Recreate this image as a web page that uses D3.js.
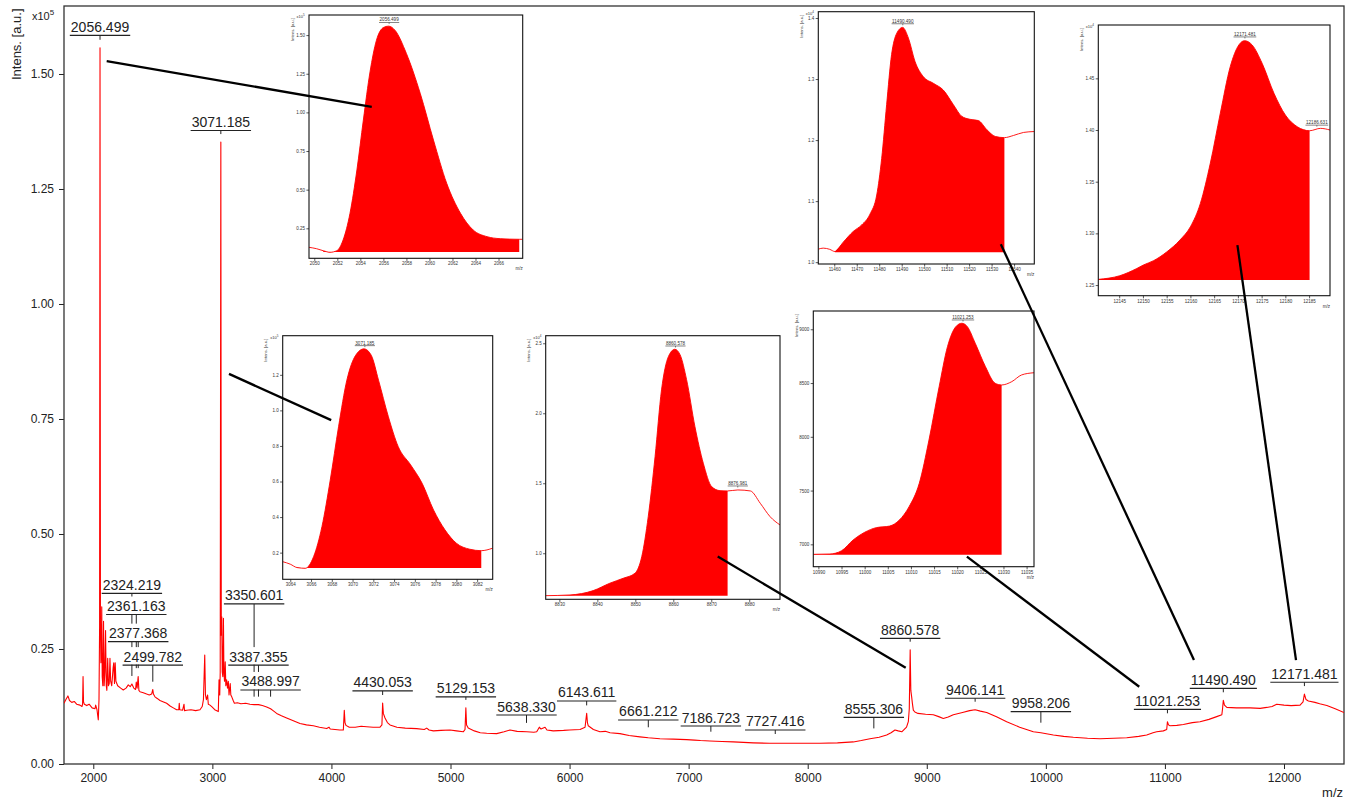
<!DOCTYPE html>
<html>
<head>
<meta charset="utf-8">
<title>MALDI-TOF spectrum</title>
<script src="https://cdn.jsdelivr.net/npm/d3@7"></script>
<style>
  body { margin: 0; background: #fff; }
  svg { display: block; }
  text { font-family: "Liberation Sans", Arial, Helvetica, sans-serif; }
</style>
</head>
<body>
<svg id="chart" width="1352" height="800"></svg>
<script>
// ---------------------------------------------------------------
// Spectrum: [m/z, intensity x10^5 a.u.]
// ---------------------------------------------------------------
const spectrum = [
  [1754,0.132],[1770,0.140],[1787,0.148],[1800,0.138],[1819,0.134],[1840,0.136],[1860,0.130],
  [1888,0.128],[1905,0.125],[1910,0.130],[1914,0.190],[1918,0.135],[1925,0.130],[1945,0.127],
  [1965,0.130],[1990,0.122],[2014,0.120],[2020,0.128],[2031,0.118],[2042,0.096],[2048,0.140],
  [2053,0.300],[2056.5,1.557],[2060,0.300],[2064,0.220],[2068,0.260],[2071,0.342],[2075,0.190],
  [2080,0.170],[2086,0.310],[2091,0.170],[2097,0.200],[2103,0.290],[2109,0.170],[2114,0.160],
  [2121,0.230],[2127,0.170],[2134,0.175],[2140,0.230],[2146,0.180],[2155,0.170],[2167,0.210],
  [2172,0.220],[2178,0.175],[2184,0.220],[2190,0.180],[2205,0.170],[2230,0.165],[2252,0.161],
  [2275,0.165],[2294,0.172],[2310,0.168],[2324,0.174],[2340,0.165],[2355,0.162],[2361,0.178],
  [2368,0.165],[2377,0.190],[2383,0.160],[2392,0.157],[2420,0.155],[2448,0.152],[2470,0.150],
  [2490,0.152],[2499.8,0.162],[2505,0.152],[2518,0.146],[2540,0.142],[2560,0.138],[2590,0.135],
  [2616,0.132],[2645,0.126],[2672,0.122],[2700,0.118],[2718,0.118],[2722,0.132],[2726,0.118],
  [2750,0.117],[2762,0.130],[2766,0.116],[2784,0.117],[2820,0.118],[2860,0.116],[2896,0.118],
  [2915,0.125],[2925,0.140],[2936,0.237],[2942,0.150],[2950,0.140],[2960,0.150],[2966,0.130],
  [2980,0.128],[2997,0.124],[3020,0.118],[3050,0.114],[3056,0.183],[3062,0.150],[3066,0.200],
  [3071.2,1.352],[3075,0.280],[3079,0.320],[3083,0.200],[3088,0.190],[3093,0.317],[3097,0.200],
  [3102,0.180],[3108,0.222],[3113,0.170],[3120,0.183],[3127,0.165],[3134,0.180],[3140,0.150],
  [3150,0.175],[3155,0.150],[3163,0.146],[3175,0.138],[3185,0.132],[3210,0.133],[3240,0.131],
  [3280,0.132],[3316,0.130],[3350.6,0.129],[3387,0.129],[3420,0.127],[3456,0.124],[3489,0.120],
  [3510,0.116],[3540,0.110],[3580,0.105],[3624,0.100],[3680,0.094],[3736,0.088],[3790,0.085],
  [3848,0.083],[3900,0.080],[3960,0.077],[3980,0.080],[3990,0.076],[4030,0.075],[4070,0.074],
  [4100,0.074],[4108,0.117],[4114,0.090],[4122,0.084],[4150,0.080],[4200,0.080],[4250,0.082],
  [4296,0.081],[4350,0.080],[4408,0.080],[4424,0.085],[4430,0.1326],[4436,0.110],[4450,0.100],
  [4470,0.090],[4492,0.085],[4550,0.080],[4620,0.078],[4716,0.077],[4780,0.075],[4800,0.078],
  [4820,0.074],[4856,0.072],[4920,0.073],[4996,0.074],[5050,0.072],[5107,0.070],[5122,0.075],
  [5129,0.122],[5135,0.085],[5149,0.078],[5200,0.072],[5250,0.068],[5304,0.067],[5388,0.066],
  [5450,0.070],[5500,0.074],[5560,0.071],[5640,0.070],[5700,0.069],[5724,0.070],[5746,0.080],
  [5760,0.076],[5794,0.080],[5810,0.074],[5863,0.072],[5950,0.073],[6000,0.074],[6088,0.075],
  [6130,0.080],[6143.6,0.110],[6150,0.090],[6157,0.083],[6200,0.075],[6255,0.070],[6300,0.071],
  [6340,0.068],[6423,0.066],[6500,0.062],[6591,0.059],[6661,0.057],[6759,0.055],[6870,0.054],
  [6983,0.053],[7050,0.052],[7100,0.051],[7179,0.050],[7280,0.049],[7375,0.048],[7460,0.047],
  [7543,0.046],[7680,0.045],[7823,0.045],[7960,0.045],[8103,0.045],[8250,0.046],[8383,0.048],
  [8450,0.051],[8523,0.055],[8600,0.058],[8663,0.063],[8700,0.068],[8733,0.074],[8760,0.072],
  [8790,0.070],[8830,0.080],[8845,0.092],[8853,0.120],[8860.6,0.2485],[8866,0.160],[8873,0.146],
  [8880,0.130],[8887,0.117],[8900,0.113],[8926,0.110],[8990,0.108],[9055,0.107],[9100,0.103],
  [9139,0.099],[9180,0.102],[9223,0.107],[9300,0.112],[9360,0.116],[9406,0.118],[9450,0.115],
  [9503,0.112],[9590,0.102],[9671,0.092],[9780,0.080],[9895,0.070],[9958,0.068],[10063,0.063],
  [10150,0.060],[10231,0.058],[10350,0.056],[10455,0.055],[10570,0.056],[10679,0.057],[10780,0.060],
  [10847,0.063],[10900,0.068],[10931,0.070],[10987,0.072],[11015,0.075],[11021,0.092],[11030,0.085],
  [11043,0.083],[11100,0.084],[11155,0.086],[11230,0.090],[11295,0.092],[11370,0.097],[11435,0.103],
  [11478,0.107],[11484,0.120],[11490.5,0.1385],[11500,0.128],[11520,0.123],[11600,0.122],[11715,0.122],
  [11800,0.121],[11855,0.123],[11900,0.125],[11939,0.130],[12000,0.128],[12060,0.127],[12135,0.128],
  [12160,0.135],[12171.5,0.152],[12185,0.140],[12205,0.137],[12260,0.134],[12300,0.131],[12360,0.127],
  [12430,0.120],[12504,0.112]
];

// Annotated peaks (m/z), their apex intensity and the level of each label (x10^5 a.u.)
const peakLabels  = [2056.499, 2324.219, 2361.163, 2377.368, 2499.782, 3071.185, 3350.601, 3387.355,
                     3488.997, 4430.053, 5129.153, 5638.330, 6143.611, 6661.212, 7186.723, 7727.416,
                     8555.306, 8860.578, 9406.141, 9958.206, 11021.253, 11490.490, 12171.481];
const peakHeights = [1.557, 0.174, 0.191, 0.191, 0.1615, 1.352, 0.129, 0.129,
                     0.129, 0.1326, 0.122, 0.072, 0.110, 0.0624, 0.0528, 0.0478,
                     0.060, 0.2485, 0.118, 0.0724, 0.0928, 0.1385, 0.152];
const labelLevels = [1.584, 0.371, 0.325, 0.266, 0.215, 1.377, 0.348, 0.215,
                     0.161, 0.159, 0.146, 0.1065, 0.137, 0.0957, 0.0826, 0.074,
                     0.1014, 0.273, 0.1428, 0.1138, 0.1188, 0.1645, 0.1777];

// Axis ticks of the full spectrum
const mzTicks  = [2000, 3000, 4000, 5000, 6000, 7000, 8000, 9000, 10000, 11000, 12000];
const intTicks = [0, 0.25, 0.50, 0.75, 1.00, 1.25, 1.50];

// Zoomed peak profiles: [m/z, intensity in the units of each zoom axis]
const zoom2056 = [ // x10^5
  [2049.54,0.127],[2050.2,0.118],[2050.78,0.105],[2051.37,0.095],[2051.95,0.105],[2052.5,0.174],
  [2053.1,0.347],[2053.7,0.627],[2054.26,0.95],[2054.84,1.262],[2055.4,1.467],[2056.0,1.549],
  [2056.45,1.558],[2057.0,1.532],[2058.0,1.381],[2059.2,1.123],[2060.35,0.821],[2061.5,0.541],
  [2062.7,0.347],[2063.8,0.239],[2065.0,0.196],[2066.15,0.183],[2067.8,0.179],[2068.1,0.179]
];
const zoom3071 = [ // x10^5
  [3063.27,0.149],[3064.0,0.135],[3064.65,0.116],[3065.45,0.112],[3066.25,0.178],[3067.05,0.346],
  [3067.85,0.608],[3068.65,0.908],[3069.45,1.17],[3070.3,1.31],[3071.1,1.346],[3071.8,1.31],
  [3072.5,1.17],[3073.45,0.964],[3074.4,0.796],[3075.6,0.693],[3076.7,0.59],[3077.8,0.44],
  [3078.9,0.328],[3080.0,0.253],[3081.3,0.219],[3082.4,0.211],[3083.5,0.225]
];
const zoom8860 = [ // x10^4
  [8826.4,0.697],[8832.8,0.702],[8838.9,0.733],[8843.3,0.786],[8846.8,0.821],[8849.9,0.857],
  [8851.7,0.976],[8853.4,1.261],[8855.2,1.69],[8856.9,2.167],[8858.7,2.404],[8860.4,2.457],
  [8861.8,2.417],[8863.5,2.24],[8865.7,1.904],[8867.9,1.643],[8870.1,1.476],[8872.3,1.447],
  [8874.3,1.445],[8877.0,1.452],[8880.3,1.445],[8882.9,1.357],[8885.5,1.261],[8888.1,1.202]
];
const zoom11021 = [ // a.u.
  [10988.9,6907],[10992.5,6910],[10995,6940],[10997.5,7040],[11000,7112],[11002.5,7155],
  [11005.4,7170],[11007.5,7226],[11009.6,7350],[11011.8,7567],[11013.9,7970],[11016.1,8466],
  [11017.9,8838],[11019.7,9024],[11021.0,9056],[11022.2,9024],[11023.9,8870],[11026.1,8653],
  [11028.2,8498],[11029.6,8482],[11031.8,8513],[11033.9,8575],[11036.6,8596]
];
const zoom11490 = [ // x10^4
  [11452.9,1.0213],[11455.1,1.023],[11458.0,1.021],[11460.3,1.0174],[11464.0,1.0328],[11468.4,1.0502],
  [11472.2,1.061],[11475.9,1.0787],[11478.9,1.110],[11481.1,1.170],[11483.3,1.258],[11485.5,1.34],
  [11487.8,1.375],[11490.4,1.3846],[11493.0,1.367],[11495.9,1.329],[11499.6,1.304],[11504.1,1.293],
  [11508.5,1.282],[11513.0,1.258],[11516.7,1.239],[11520.4,1.234],[11524.1,1.232],[11527.9,1.217],
  [11531.6,1.206],[11535.7,1.204],[11539.7,1.2075],[11544.2,1.2125],[11549.0,1.214]
];
const zoom12171 = [ // x10^4
  [12140.6,1.2555],[12145.1,1.259],[12148.7,1.266],[12150.1,1.2694],[12152.2,1.2735],[12155.0,1.282],
  [12157.8,1.2936],[12160.0,1.3064],[12162.1,1.329],[12164.2,1.368],[12166.3,1.4163],[12168.4,1.4614],
  [12170.2,1.4823],[12171.4,1.4864],[12173.0,1.4823],[12175.1,1.4646],[12177.6,1.4355],[12180.0,1.4145],
  [12182.5,1.4032],[12185.1,1.3993],[12187.4,1.4016],[12189.4,1.400]
];

// Integration windows [start, end, baseline] of each zoomed peak
const integration = [
  [2050.78, 2067.8, 0.097], [3064.65, 3082.4, 0.114], [8826.4, 8874.3, 0.697],
  [10988.9, 11029.6, 6903], [11460.3, 11535.7, 1.0164], [12140.6, 12185.1, 1.2548]
];
// Peak labels inside each zoom
const zoomPeakLabels = [[2056.499], [3071.185], [8860.578, 8876.981], [11021.253], [11490.490], [12171.481, 12186.631]];
// Leader lines: point on the full spectrum [m/z, x10^5] -> point inside the zoom [m/z, zoom units]
const leaderFrom = [[2112.5,1.528],[3139.7,0.848],[8823,0.209],[10784.5,0.168],[11244,0.226],[12101,0.226]];
const leaderTo   = [[2054.99,1.036],[3067.94,0.945],[8871.7,0.976],[11022.1,6885],[11534.1,1.0295],[12169.9,1.2887]];

// ---------------------------------------------------------------
const svg = d3.select("#chart");
const plot = { left: 64, right: 1344, top: 6, bottom: 764 };
const RED = "#ff0000", INK = "#222";

const x = d3.scaleLinear().domain([1754, 12504]).range([plot.left, plot.right]);
const y = d3.scaleLinear().domain([0, 1.6478]).range([plot.bottom, plot.top]);

function stepValues(lo, hi, step) {
  const out = [];
  for (let k = Math.ceil(lo / step - 1e-9); k * step <= hi + 1e-9; k++) out.push(+(k * step).toFixed(6));
  return out;
}

svg.append("rect").attr("width", 1352).attr("height", 800).attr("fill", "#fff");

// main axes
const gx = svg.append("g").attr("transform", `translate(0,${plot.bottom})`);
gx.call(d3.axisBottom(x).tickValues(stepValues(1800, 12500, 200)).tickSize(5).tickFormat(""));
gx.call(d3.axisBottom(x).tickValues(mzTicks).tickSize(5).tickPadding(4).tickFormat(d3.format("d")));
const gy = svg.append("g").attr("transform", `translate(${plot.left},0)`);
gy.call(d3.axisLeft(y).tickValues(stepValues(0, 1.64, 0.05)).tickSize(5).tickFormat(""));
gy.call(d3.axisLeft(y).tickValues(intTicks).tickSize(5).tickPadding(5).tickFormat(d3.format(".2f")));
[gx, gy].forEach(g => {
  g.selectAll(".domain").remove();
  g.selectAll(".tick line").attr("stroke", INK).attr("stroke-width", 1);
  g.selectAll(".tick text").attr("fill", INK).attr("font-size", 12)
    .attr("font-family", '"Liberation Sans", Arial, sans-serif');
});

svg.append("rect")
  .attr("x", plot.left).attr("y", plot.top)
  .attr("width", plot.right - plot.left).attr("height", plot.bottom - plot.top)
  .attr("fill", "none").attr("stroke", "#333").attr("stroke-width", 1.3);

svg.append("text").attr("transform", `translate(21,8.5) rotate(-90)`)
  .attr("text-anchor", "end").attr("font-size", 13).attr("fill", INK).text("Intens. [a.u.]");
const expo = svg.append("text").attr("x", 32).attr("y", 19.5).attr("font-size", 11).attr("fill", INK);
expo.append("tspan").text("x10");
expo.append("tspan").attr("dy", -5).attr("font-size", 8).text("5");
svg.append("text").attr("x", 1343).attr("y", 797).attr("text-anchor", "end")
  .attr("font-size", 13).attr("fill", INK).text("m/z");

// spectrum trace
svg.append("clipPath").attr("id", "plotClip").append("rect")
  .attr("x", plot.left).attr("y", plot.top)
  .attr("width", plot.right - plot.left).attr("height", plot.bottom - plot.top);
svg.append("path").datum(spectrum)
  .attr("clip-path", "url(#plotClip)")
  .attr("fill", "none").attr("stroke", RED).attr("stroke-width", 1.1).attr("stroke-linejoin", "round")
  .attr("d", d3.line().x(d => x(d[0])).y(d => y(d[1])));

// peak annotations: leader ticks first, then the labels (which mask the ticks behind them)
const ann = svg.append("g");
peakLabels.forEach((mz, i) => {
  ann.append("line")
    .attr("x1", x(mz)).attr("x2", x(mz))
    .attr("y1", y(labelLevels[i])).attr("y2", y(peakHeights[i]) - 8)
    .attr("stroke", INK).attr("stroke-width", 1);
});
peakLabels.forEach((mz, i) => {
  const cx = x(mz), ly = y(labelLevels[i]);
  const g = ann.append("g");
  const bg = g.append("rect").attr("fill", "#fff");
  const t = g.append("text").attr("x", cx).attr("y", ly - 3.5).attr("text-anchor", "middle")
    .attr("font-size", 14).attr("fill", INK).text(mz.toFixed(3));
  const w = t.node().getComputedTextLength();
  bg.attr("x", cx - w / 2 - 1).attr("y", ly - 18).attr("width", w + 2).attr("height", 17.5);
  g.append("line").attr("x1", cx - w / 2 - 1).attr("x2", cx + w / 2 + 1)
    .attr("y1", ly).attr("y2", ly).attr("stroke", INK).attr("stroke-width", 1.1);
});

// ---------------------------------------------------------------
// Zoomed views of selected peaks
// ---------------------------------------------------------------
const zooms = [
  { data: zoom2056,  box: [309, 15, 522.7, 258.3],   xDom: [2049.54, 2068.1],  yDom: [0.056, 1.63],
    xMajor: [2050, 2066, 2], xMinor: 0.5, yMajor: [0.25, 1.5, 0.25], yMinor: 0.05, yFmt: ".2f", exp: 5 },
  { data: zoom3071,  box: [282.7, 335.7, 492.7, 579.3], xDom: [3063.27, 3083.5], yDom: [0.05, 1.42],
    xMajor: [3064, 3082, 2], xMinor: 0.5, yMajor: [0.2, 1.2, 0.2], yMinor: 0.05, yFmt: ".1f", exp: 5 },
  { data: zoom8860,  box: [545.7, 335.7, 780, 599.3], xDom: [8826.4, 8888.1], yDom: [0.671, 2.554],
    xMajor: [8830, 8880, 10], xMinor: 2, yMajor: [1.0, 2.5, 0.5], yMinor: 0.1, yFmt: ".1f", exp: 4 },
  { data: zoom11021, box: [813.3, 311, 1034, 566.7], xDom: [10988.9, 11036.6], yDom: [6792, 9170],
    xMajor: [10990, 11035, 5], xMinor: 1, yMajor: [7000, 9000, 500], yMinor: 100, yFmt: "d", exp: null },
  { data: zoom11490, box: [818.3, 11.7, 1034.3, 264], xDom: [11452.9, 11549.0], yDom: [0.997, 1.4103],
    xMajor: [11460, 11540, 10], xMinor: 2, yMajor: [1.0, 1.4, 0.1], yMinor: 0.02, yFmt: ".1f", exp: 4 },
  { data: zoom12171, box: [1098.3, 25, 1330, 295.7], xDom: [12140.6, 12189.4], yDom: [1.2397, 1.5016],
    xMajor: [12145, 12185, 5], xMinor: 1, yMajor: [1.25, 1.45, 0.05], yMinor: 0.01, yFmt: ".2f", exp: 4 }
];

function valueAt(data, m) {
  const i = d3.bisector(d => d[0]).left(data, m);
  if (i <= 0) return data[0][1];
  if (i >= data.length) return data[data.length - 1][1];
  const a = data[i - 1], b = data[i], t = (m - a[0]) / (b[0] - a[0]);
  return a[1] + t * (b[1] - a[1]);
}

const zoomScales = zooms.map((z, k) => {
  const [x0, y0, x1, y1] = z.box;
  const ix = d3.scaleLinear().domain(z.xDom).range([x0, x1]);
  const iy = d3.scaleLinear().domain(z.yDom).range([y1, y0]);
  const g = svg.append("g");
  g.append("rect").attr("x", x0).attr("y", y0).attr("width", x1 - x0).attr("height", y1 - y0).attr("fill", "#fff");

  const clipId = "zclip" + k;
  g.append("clipPath").attr("id", clipId).append("rect")
    .attr("x", x0).attr("y", y0).attr("width", x1 - x0).attr("height", y1 - y0);

  // integrated area
  const [f0, f1, base] = integration[k];
  const inside = [[f0, valueAt(z.data, f0)]]
    .concat(z.data.filter(d => d[0] > f0 + 1e-6 && d[0] < f1 - 1e-6))
    .concat([[f1, valueAt(z.data, f1)]]);
  g.append("path").datum(inside).attr("clip-path", `url(#${clipId})`)
    .attr("fill", RED).attr("stroke", "none")
    .attr("d", d3.area().curve(d3.curveMonotoneX).x(d => ix(d[0])).y0(iy(base)).y1(d => iy(d[1])));
  g.append("path").datum(z.data).attr("clip-path", `url(#${clipId})`)
    .attr("fill", "none").attr("stroke", RED).attr("stroke-width", 0.9)
    .attr("d", d3.line().curve(d3.curveMonotoneX).x(d => ix(d[0])).y(d => iy(d[1])));

  // axes
  const ax = g.append("g").attr("transform", `translate(0,${y1})`);
  ax.call(d3.axisBottom(ix).tickValues(stepValues(z.xDom[0], z.xDom[1], z.xMinor)).tickSize(1.6).tickFormat(""));
  ax.call(d3.axisBottom(ix).tickValues(stepValues(z.xMajor[0], z.xMajor[1], z.xMajor[2]))
    .tickSize(2.6).tickPadding(1.4).tickFormat(d3.format("d")));
  const ay = g.append("g").attr("transform", `translate(${x0},0)`);
  ay.call(d3.axisLeft(iy).tickValues(stepValues(z.yDom[0], z.yDom[1], z.yMinor)).tickSize(1.6).tickFormat(""));
  ay.call(d3.axisLeft(iy).tickValues(stepValues(z.yMajor[0], z.yMajor[1], z.yMajor[2]))
    .tickSize(2.6).tickPadding(1.4).tickFormat(d3.format(z.yFmt)));
  [ax, ay].forEach(a => {
    a.selectAll(".domain").remove();
    a.selectAll(".tick line").attr("stroke", "#111").attr("stroke-width", 0.7);
    a.selectAll(".tick text").attr("fill", "#333").attr("font-size", 4.5)
      .attr("font-family", '"Liberation Sans", Arial, sans-serif');
  });

  g.append("rect").attr("x", x0).attr("y", y0).attr("width", x1 - x0).attr("height", y1 - y0)
    .attr("fill", "none").attr("stroke", "#111").attr("stroke-width", 1.1);

  g.append("text").attr("transform", `translate(${x0 - 15.5},${y0 + 3}) rotate(-90)`)
    .attr("text-anchor", "end").attr("font-size", 4.2).attr("fill", "#333").text("Intens. [a.u.]");
  if (z.exp) {
    const e = g.append("text").attr("x", x0 - 12.5).attr("y", y0 + 3).attr("font-size", 4).attr("fill", "#333");
    e.append("tspan").text("x10");
    e.append("tspan").attr("dy", -1.6).attr("font-size", 3).text(z.exp);
  }
  g.append("text").attr("x", x1).attr("y", y1 + 12).attr("text-anchor", "end")
    .attr("font-size", 4.5).attr("fill", "#333").text("m/z");

  // peak labels inside the zoom
  zoomPeakLabels[k].forEach(mz => {
    const cx = ix(mz), ly = iy(valueAt(z.data, mz)) - 4;
    const t = g.append("text").attr("x", cx).attr("y", ly - 1).attr("text-anchor", "middle")
      .attr("font-size", 4.6).attr("fill", "#333").text(mz.toFixed(3));
    const w = t.node().getComputedTextLength();
    g.append("line").attr("x1", cx - w / 2 - 0.5).attr("x2", cx + w / 2 + 0.5)
      .attr("y1", ly).attr("y2", ly).attr("stroke", "#333").attr("stroke-width", 0.6);
    g.append("line").attr("x1", cx).attr("x2", cx).attr("y1", ly).attr("y2", ly + 1.5)
      .attr("stroke", "#333").attr("stroke-width", 0.6);
  });
  return { ix, iy };
});

// leader lines from the spectrum to each zoomed view
leaderFrom.forEach((p, k) => {
  const q = leaderTo[k], s = zoomScales[k];
  svg.append("line")
    .attr("x1", x(p[0])).attr("y1", y(p[1]))
    .attr("x2", s.ix(q[0])).attr("y2", s.iy(q[1]))
    .attr("stroke", "#000").attr("stroke-width", 2.3).attr("stroke-linecap", "butt");
});
</script>
</body>
</html>
